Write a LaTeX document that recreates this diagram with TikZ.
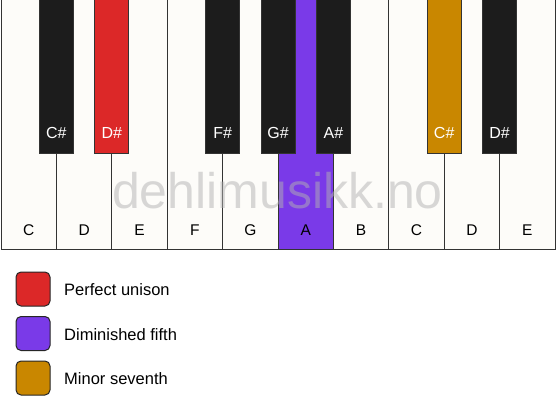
\documentclass[tikz,border=0pt]{standalone}
\usepackage{fontspec}
\setmainfont{Liberation Sans}
\begin{document}
\begin{tikzpicture}[x=1pt,y=-1pt,
  keyline/.style={draw=black!80, line width=1pt},
  whitekey/.style={keyline, fill=keywhite},
  blackkey/.style={keyline, fill=keyblack},
  wlabel/.style={font=\fontsize{15.5}{15.5}\selectfont, text=black},
  blabel/.style={font=\fontsize{16}{16}\selectfont, text=white},
  legbox/.style={draw=black!85, line width=1pt, rounded corners=5pt, minimum width=34pt, minimum height=34pt, inner sep=0pt},
  legtext/.style={font=\fontsize{16.5}{16.5}\selectfont, anchor=west, inner sep=0pt}]
\definecolor{keywhite}{HTML}{FDFCF9}
\definecolor{keyblack}{HTML}{1C1C1C}
\definecolor{unison}{HTML}{DC2828}
\definecolor{dimfifth}{HTML}{7A3AE8}
\definecolor{minseventh}{HTML}{C98700}
\useasboundingbox (0,0) rectangle (556,417);
\fill[white] (0,0) rectangle (556,417);
% white keys
\foreach \i/\n/\c in {0/C/keywhite,1/D/keywhite,2/E/keywhite,3/F/keywhite,4/G/keywhite,5/A/dimfifth,6/B/keywhite,7/C/keywhite,8/D/keywhite,9/E/keywhite}{
  \draw[keyline, fill=\c] ({1+\i*55.4},-1) rectangle ({1+(\i+1)*55.4},249.5);
  \node[wlabel] (w\i) at ({1+(\i+0.5)*55.4},230) {\n};
}
% watermark
\node[font=\fontsize{50}{50}\selectfont, text=black!30, opacity=0.5, anchor=base] (wm) at (277.5,208) {dehlimusikk.no};
% black keys
\foreach \b/\n/\c in {1/C\#/keyblack,2/D\#/unison,4/F\#/keyblack,5/G\#/keyblack,6/A\#/keyblack,8/C\#/minseventh,9/D\#/keyblack}{
  \draw[keyline, fill=\c] ({1+\b*55.4-17},-1) rectangle ({1+\b*55.4+17},153);
  \node[blabel] (b\b) at ({1+\b*55.4},133) {\n};
}
% legend
\node[legbox, fill=unison] (l1) at (33,289) {};
\node[legtext] (t1) at (64,290) {Perfect unison};
\node[legbox, fill=dimfifth] (l2) at (33,333.5) {};
\node[legtext] (t2) at (64,334.5) {Diminished fifth};
\node[legbox, fill=minseventh] (l3) at (33,378) {};
\node[legtext] (t3) at (64,379) {Minor seventh};
\end{tikzpicture}
\end{document}
